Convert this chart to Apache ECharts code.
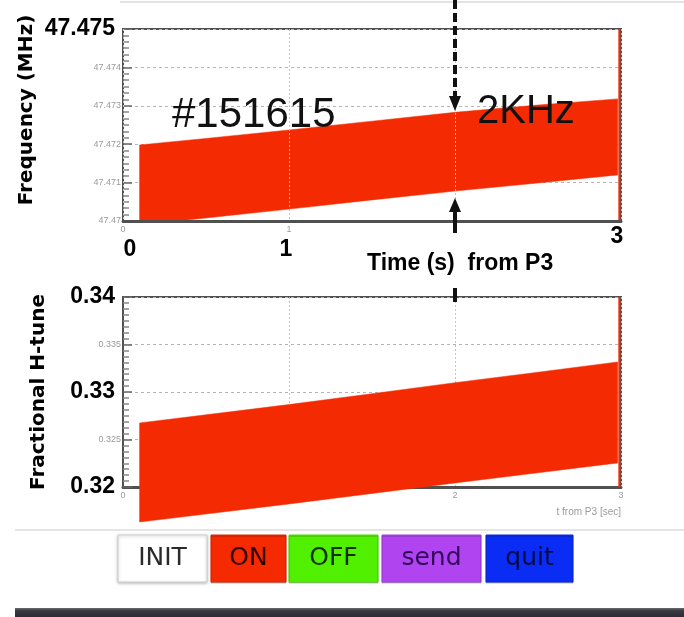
<!DOCTYPE html>
<html><head><meta charset="utf-8">
<script src="https://cdn.jsdelivr.net/npm/echarts@6/dist/echarts.min.js"></script>
<style>html,body{margin:0;padding:0;background:#fff}#c{width:684px;height:617px}</style>
</head><body><div id="c"></div>
<script>
// ---- data ----
const timeS      = [0.1, 0.5, 1, 1.5, 2, 2.5, 2.98];
const freqUpper  = [47.47198, 47.47215, 47.47237, 47.47260, 47.47283, 47.47302, 47.47318];
const freqLower  = [47.46990, 47.47008, 47.47031, 47.47055, 47.47078, 47.47099, 47.47120];
const tuneUpper  = [0.32674, 0.32760, 0.32868, 0.32982, 0.33098, 0.33208, 0.33316];
const tuneLower  = [0.31632, 0.31716, 0.31822, 0.31932, 0.32043, 0.32150, 0.32253];
const endMarkTime = 2.99;
const markerTime  = 2;
const freqTicks   = [47.47, 47.471, 47.472, 47.473, 47.474, 47.475];
const tuneTicks   = [0.32, 0.325, 0.33, 0.335, 0.34];
const timeTicks   = [0, 1, 2, 3];
const freqBigLabels = ['47.475'];
const tuneBigLabels = ['0.32', '0.33', '0.34'];
const bigTimeLabels = ['0', '1', '3'];
const hiddenTopTimeLabels = ['3'];
const shotLabel  = '#151615';
const widthLabel = '2KHz';
const timeTitle  = 'Time (s)  from P3';
const rootTimeTitle = 't from P3 [sec]';
const freqTitle  = 'Frequency (MHz)';
const tuneTitle  = 'Fractional H-tune';
const buttonLabels = ['INIT', 'ON', 'OFF', 'send', 'quit'];

// ---- styles ----
const RED = '#f42a02';
const buttonStyles = [
  {fill:'#ffffff', stroke:'#cfcfcf', text:'#2a2a2a'},
  {fill:'#f52a00', stroke:'#e02600', text:'#300600'},
  {fill:'#50f000', stroke:'#48dc00', text:'#103000'},
  {fill:'#b044f0', stroke:'#a23ee0', text:'#33085c'},
  {fill:'#0a2cf5', stroke:'#0a28e0', text:'#000a48'}
];
const buttonBoxes = [[118,89],[211,75],[289,89],[382,99],[486,87]];

const chart = echarts.init(document.getElementById('c'), null, {renderer:'canvas'});

function yFmt(bigList){
  return function(v){
    const s = String(+v.toFixed(3));
    return bigList.indexOf(s) >= 0 ? '{b|' + s + '}' : '{s|' + s + '}';
  };
}
const richY = {
  b:{fontFamily:'Liberation Sans', fontWeight:'bold', fontSize:23, color:'#000', padding:[0,6,0,0]},
  s:{fontFamily:'Liberation Sans', fontSize:9, color:'#9a9a9a'}
};

function yAxisBase(ticks, bigList, name, gap, pad, splitN){
  return {
    type:'value', min:ticks[0], max:ticks[ticks.length-1],
    interval:+(ticks[1]-ticks[0]).toFixed(4),
    name:name, nameLocation:'middle', nameRotate:90, nameGap:gap, nameMoveOverlap:false,
    nameTextStyle:{fontFamily:'DejaVu Sans', fontWeight:'bold', fontSize:20, color:'#000', padding:pad},
    axisLine:{show:true, lineStyle:{color:'#505050', width:2}},
    axisTick:{show:true, inside:true, length:9, lineStyle:{color:'#666', width:1.5}},
    minorTick:{show:true, splitNumber:splitN, length:6, lineStyle:{color:'#888', width:1.5}},
    splitLine:{show:true, lineStyle:{color:'#b5b5b5', type:[3,3], width:1}},
    axisLabel:{margin:2, formatter:yFmt(bigList), rich:richY}
  };
}
function xAxisBase(grid, hidden, extra){
  return Object.assign({
    type:'value', gridIndex:grid, min:timeTicks[0], max:timeTicks[timeTicks.length-1], interval:1,
    axisLine:{show:true, onZero:false, lineStyle:{color:'#505050', width:3}},
    axisTick:{show:false},
    splitLine:{show:true, lineStyle:{color:'#c4c4c4', type:[2,2], width:1}},
    axisLabel:{margin:4, fontFamily:'Liberation Sans', fontSize:9, color:'#9a9a9a',
      formatter:function(v){ const s=String(v); return hidden.indexOf(s)>=0 ? '' : s; }}
  }, extra||{});
}

// band drawn as one polygon through the axes' scales
function bandSeries(idx, lower, upper, yTicks, clip){
  return {
    type:'custom', xAxisIndex:idx, yAxisIndex:idx, clip:clip, silent:true, z:2,
    data: timeS.map((t,i)=>[t, lower[i], upper[i]]),
    encode:{x:0, y:[1,2]},
    renderItem:function(params, api){
      if (params.dataIndex !== 0) return null;
      const top = timeS.map((t,i)=>api.coord([t, upper[i]]));
      const bot = timeS.map((t,i)=>api.coord([t, lower[i]])).reverse();
      const p0 = api.coord([endMarkTime, yTicks[0]]);
      const p1 = api.coord([endMarkTime, yTicks[yTicks.length-1]]);
      return {type:'group', children:[
        {type:'polygon', shape:{points:top.concat(bot)}, style:{fill:RED, stroke:RED, lineWidth:0.5}},
        {type:'line', shape:{x1:p0[0], y1:p0[1], x2:p1[0], y2:p1[1]}, style:{stroke:RED, lineWidth:2}}
      ]};
    }
  };
}

const option = {
  animation:false,
  backgroundColor:'#ffffff',
  grid:[
    {left:123, top:29, width:498, height:192, show:true, borderColor:'#505050', borderWidth:2, backgroundColor:'#fff'},
    {left:123, top:297, width:498, height:190, show:true, borderColor:'#505050', borderWidth:2, backgroundColor:'#fff'}
  ],
  xAxis:[
    xAxisBase(0, hiddenTopTimeLabels, {z:5}),
    xAxisBase(1, [], {
      name:rootTimeTitle, nameLocation:'end', nameGap:0,
      nameTextStyle:{fontFamily:'Liberation Sans', fontSize:10, color:'#9a9a9a', align:'right', verticalAlign:'top', padding:[20,0,0,0]}
    })
  ],
  yAxis:[
    Object.assign(yAxisBase(freqTicks, freqBigLabels, freqTitle, 86, [0,0,0,30], 6), {gridIndex:0}),
    Object.assign(yAxisBase(tuneTicks, tuneBigLabels, tuneTitle, 74, [0,0,0,0], 8), {gridIndex:1})
  ],
  series:[
    bandSeries(0, freqLower, freqUpper, freqTicks, true),
    bandSeries(1, tuneLower, tuneUpper, tuneTicks, false)
  ]
};
chart.setOption(option);

// ---- annotations ----
const xM = chart.convertToPixel({xAxisIndex:0}, markerTime);
const xPix = t => chart.convertToPixel({xAxisIndex:0}, t);
const bigOffsets = {'0':[7,250], '1':[-3,250], '3':[-4,237]};

const g = [];
g.push({type:'line', shape:{x1:120, y1:2, x2:684, y2:2}, style:{stroke:'#e2e2e2', lineWidth:2}, z:1});
g.push({type:'line', shape:{x1:15, y1:530, x2:684, y2:530}, style:{stroke:'#dcdcdc', lineWidth:1.5}, z:1});
g.push({type:'rect', shape:{x:15, y:608, width:669, height:9},
  style:{fill:new echarts.graphic.LinearGradient(0,0,0,1,[{offset:0,color:'#6a6a6a'},{offset:0.3,color:'#3a3a44'},{offset:1,color:'#2c2c36'}])}, z:1});

g.push({type:'line', shape:{x1:xM, y1:0, x2:xM, y2:97}, style:{stroke:'#111', lineWidth:4, lineDash:[9,4]}, z:20});
g.push({type:'polygon', shape:{points:[[xM-6,96],[xM+6,96],[xM,111]]}, style:{fill:'#111'}, z:20});
g.push({type:'polygon', shape:{points:[[xM,198],[xM-6,212],[xM+6,212]]}, style:{fill:'#111'}, z:20});
g.push({type:'line', shape:{x1:xM, y1:211, x2:xM, y2:233}, style:{stroke:'#111', lineWidth:4}, z:20});
g.push({type:'line', shape:{x1:xM, y1:288, x2:xM, y2:302}, style:{stroke:'#111', lineWidth:4}, z:20});

g.push({type:'text', x:172, y:94, style:{text:shotLabel, font:'42px "Liberation Sans"', fill:'#111', textVerticalAlign:'alphabetic'}, z:20});
g.push({type:'text', x:477, y:92, style:{text:widthLabel, font:'40px "Liberation Sans"', fill:'#111', textVerticalAlign:'alphabetic'}, z:20});
bigTimeLabels.forEach(function(s){
  const o = bigOffsets[s];
  g.push({type:'text', x:xPix(+s)+o[0], y:o[1], style:{text:s, font:'bold 23px "Liberation Sans"', fill:'#000', textAlign:'center', textVerticalAlign:'middle'}, z:20});
});
g.push({type:'text', x:367, y:264, style:{text:timeTitle, font:'bold 23px "Liberation Sans"', fill:'#000', textAlign:'left', textVerticalAlign:'middle'}, z:20});

buttonLabels.forEach(function(lbl, i){
  const b = buttonBoxes[i], st = buttonStyles[i];
  g.push({type:'rect', shape:{x:b[0], y:535, width:b[1], height:47},
    style:{fill:st.fill, stroke:st.stroke, lineWidth:1, shadowBlur:i===0?3:0, shadowColor:'rgba(0,0,0,0.25)', shadowOffsetY:1}, z:10});
  g.push({type:'text', x:b[0]+b[1]/2, y:558, style:{text:lbl, font:'25px "DejaVu Sans"', fill:st.text, textAlign:'center', textVerticalAlign:'middle'}, z:11});
});

chart.setOption({graphic:g});
</script></body></html>
